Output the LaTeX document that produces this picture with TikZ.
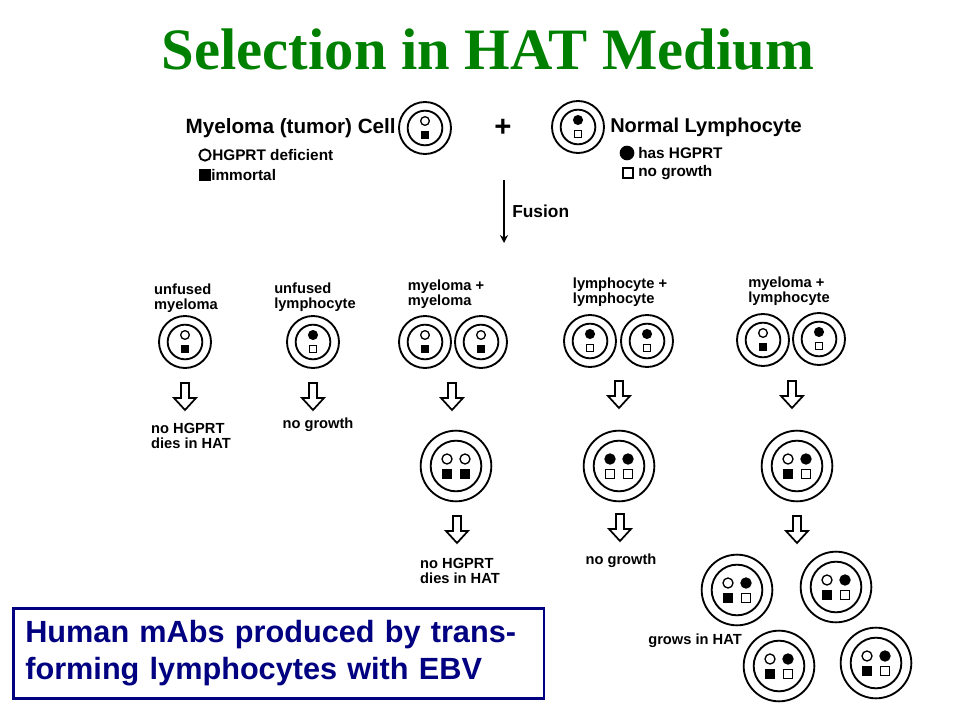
\documentclass[tikz,border=0pt]{standalone}
\usetikzlibrary{arrows.meta}
\usepackage{fontspec}
\setmainfont{Liberation Sans}
\newfontfamily\serifb{Liberation Serif}
\definecolor{ttl}{RGB}{0,128,0}
\definecolor{navyb}{RGB}{0,0,128}
\tikzset{
 outer/.style={circle,draw,line width=1.4pt,inner sep=0pt},
 inn/.style={circle,draw,line width=1.4pt,inner sep=0pt},
 oc/.style={circle,draw,line width=1pt,fill=white,inner sep=0pt,minimum size=6.5pt},
 fc/.style={circle,draw,line width=1pt,fill=black,inner sep=0pt,minimum size=6.5pt},
 os/.style={rectangle,draw,line width=1pt,fill=white,inner sep=0pt,minimum size=5.5pt},
 fs/.style={rectangle,draw,line width=1pt,fill=black,inner sep=0pt,minimum size=5.5pt},
 lab/.style={font=\bfseries\fontsize{11}{11.5}\selectfont,align=left,inner sep=0pt},
 key/.style={font=\bfseries\fontsize{11.5}{12}\selectfont,inner sep=0pt,anchor=west},
 hollow/.style={line width=1.3pt,line join=miter}
}
% single cell: name,x,y,topstyle,bottomstyle
\newcommand\scell[5]{%
 \node[outer,minimum size=39pt] (#1) at (#2,#3) {};
 \node[inn,minimum size=26pt] at (#1) {};
 \node[#4] at (#2,#3-7) {};
 \node[#5] at (#2,#3+7) {};}
% fused cell: name,x,y,tl,tr,bl,br
\newcommand\fcell[7]{%
 \node[outer,minimum size=53pt] (#1) at (#2,#3) {};
 \node[inn,minimum size=38pt] at (#1) {};
 \node[#4,minimum size=7.5pt] at (#2-9,#3-7) {};
 \node[#5,minimum size=7.5pt] at (#2+9,#3-7) {};
 \node[#6,minimum size=6.5pt] at (#2-9,#3+8) {};
 \node[#7,minimum size=6.5pt] at (#2+9,#3+8) {};}
\newcommand\harrow[2]{%
 \draw[hollow] (#1-4,#2-14) -- (#1+4,#2-14) -- (#1+4,#2+1) -- (#1+11,#2+1) -- (#1,#2+13) -- (#1-11,#2+1) -- (#1-4,#2+1) -- cycle;}
\begin{document}
\begin{tikzpicture}[x=0.75pt,y=-0.75pt]
\useasboundingbox (0,0) rectangle (960,720);
\node[font=\serifb\bfseries\fontsize{44}{48}\selectfont,text=ttl] (title) at (488,50) {Selection in HAT Medium};
% top cells
\scell{my}{425}{128}{oc}{fs}
\scell{ly}{578}{127}{fc}{os}
\node[font=\bfseries\fontsize{22}{22}\selectfont] (plus) at (503,128) {+};
\node[lab,font=\bfseries\fontsize{15.5}{15.5}\selectfont,anchor=east] (myl) at (396,128) {Myeloma (tumor) Cell};
\node[lab,font=\bfseries\fontsize{15}{15}\selectfont,anchor=west] (lyl) at (610,127) {Normal Lymphocyte};
\node[oc,minimum size=8.5pt,line width=1.4pt] (k1) at (205,155) {};
\node[key] (k1t) at (212,155) {HGPRT deficient};
\node[fs,minimum size=8pt] (k2) at (205,175) {};
\node[key] (k2t) at (211,175) {immortal};
\node[fc,minimum size=10pt] (k3) at (627,153) {};
\node[key] (k3t) at (638,153) {has HGPRT};
\node[os,minimum size=8pt,line width=1.3pt] (k4) at (628,173) {};
\node[key] (k4t) at (638,173) {no growth};
\coordinate (fa) at (504,180);
\coordinate (fb) at (504,243);
\draw[line width=1.5pt,-{Stealth[length=6pt,width=6pt]}] (fa) -- (fb);
\node[lab,font=\bfseries\fontsize{13}{13}\selectfont,anchor=west] (fus) at (512,211) {Fusion};
% labels row
\node[lab] (l1) at (186,298) {unfused\\myeloma};
\node[lab] (l2) at (315,297) {unfused\\lymphocyte};
\node[lab] (l3) at (446,294) {myeloma +\\myeloma};
\node[lab] (l4) at (620,292) {lymphocyte +\\lymphocyte};
\node[lab] (l5) at (789,291) {myeloma +\\lymphocyte};
% cells row
\scell{c1}{185}{342}{oc}{fs}
\scell{c2}{313}{342}{fc}{os}
\scell{c3a}{425}{342}{oc}{fs}
\scell{c3b}{481}{342}{oc}{fs}
\scell{c4a}{590}{341}{fc}{os}
\scell{c4b}{647}{341}{fc}{os}
\scell{c5a}{763}{340}{oc}{fs}
\scell{c5b}{819}{339}{fc}{os}
% arrows
\harrow{185}{397}\harrow{313}{397}\harrow{452}{397}\harrow{619}{395}\harrow{792}{395}
\node[lab] (r1) at (191,436) {no HGPRT\\dies in HAT};
\node[lab] (r2) at (318,425) {no growth};
\fcell{f1}{456}{466}{oc}{oc}{fs}{fs}
\fcell{f2}{619}{466}{fc}{fc}{os}{os}
\fcell{f3}{797}{466}{oc}{fc}{fs}{os}
\harrow{457}{530}\harrow{620}{528}\harrow{797}{530}
\node[lab] (r3) at (460,571) {no HGPRT\\dies in HAT};
\node[lab] (r4) at (621,561) {no growth};
\fcell{g1}{737}{590}{oc}{fc}{fs}{os}
\fcell{g2}{836}{587}{oc}{fc}{fs}{os}
\fcell{g3}{779}{666}{oc}{fc}{fs}{os}
\fcell{g4}{876}{663}{oc}{fc}{fs}{os}
\node[lab] (gr) at (695,641) {grows in HAT};
% box
\node[draw=navyb,line width=2pt,text=navyb,font=\bfseries\fontsize{23}{28}\selectfont,align=left,anchor=north west,minimum width=398pt,minimum height=67.5pt,inner xsep=6pt,text width=380pt] (box) at (12,607) {Human mAbs produced by trans-\\forming lymphocytes with EBV};
\end{tikzpicture}
\end{document}
